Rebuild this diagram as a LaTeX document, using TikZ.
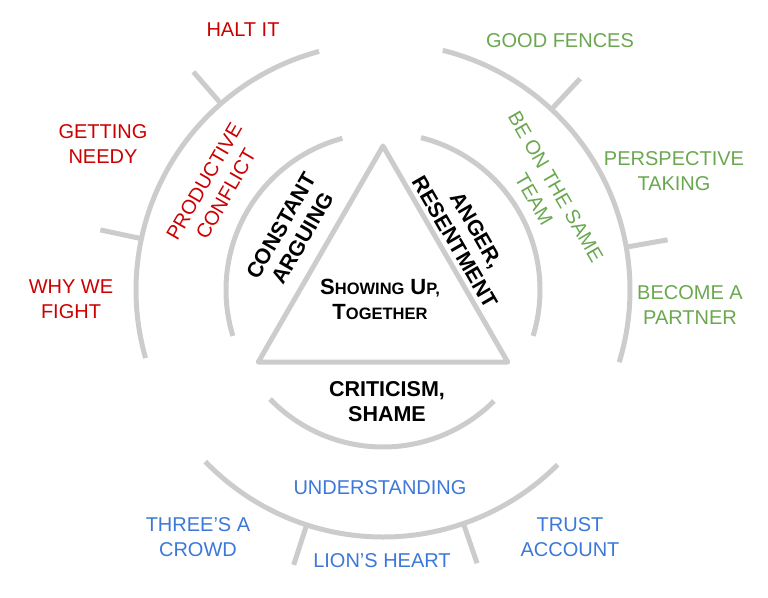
\documentclass[tikz,border=0pt]{standalone}
\usepackage{fontspec}
\setmainfont{Liberation Sans}
\usepackage{xcolor}
\usepackage{tikz}
\usetikzlibrary{positioning,calc}

\definecolor{ringgray}{HTML}{CCCCCC}
\definecolor{confred}{HTML}{CC0000}
\definecolor{teamgreen}{HTML}{6AA84F}
\definecolor{understblue}{HTML}{3C78D8}

\newcommand{\capword}[2]{{\fontsize{22}{27}\selectfont #1}{\fontsize{16.5}{27}\selectfont #2}}

\begin{document}
\begin{tikzpicture}[x=1pt, y=1pt,
  ring/.style={draw=ringgray, line width=5pt},
  tick/.style={draw=ringgray, line width=5pt},
  every node/.style={inner sep=0pt, align=center, font=\fontsize{20}{25}\selectfont},
  redtxt/.style={text=confred},
  greentxt/.style={text=teamgreen},
  bluetxt/.style={text=understblue},
  blacktxt/.style={text=black, font=\fontsize{21.5}{25}\selectfont\bfseries}]
\useasboundingbox (-383,-307) rectangle (385,290);
% rings
\draw[ring] (105:247) arc[start angle=105, end angle=196, radius=247];
\draw[ring] (-17:247) arc[start angle=-17, end angle=76, radius=247];
\draw[ring] (224:247) arc[start angle=224, end angle=315, radius=247];
\draw[ring] (105:157) arc[start angle=105, end angle=197, radius=157];
\draw[ring] (-17:157) arc[start angle=-17, end angle=76, radius=157];
\draw[ring] (224:157) arc[start angle=224, end angle=315, radius=157];
% ticks
\foreach \a in {131,168,47,10,252,289}
  \draw[tick] (\a:247) -- (\a:289);
% triangle
\draw[ring, line join=round] (90:144) -- (210:144) -- (330:144) -- cycle;
% center
\node[blacktxt] (core) at (-3,-9) {\capword{S}{HOWING} \capword{U}{P,}\\ \capword{T}{OGETHER}};
\node[blacktxt, rotate=60] (arguing) at (-91,58) {CONSTANT\\ ARGUING};
\node[blacktxt, rotate=-60] (anger) at (83,54) {ANGER,\\ RESENTMENT};
\node[blacktxt] (shame) at (4,-112) {CRITICISM,\\ SHAME};
% red side
\node[redtxt, rotate=60] (conflict) at (-168,102) {PRODUCTIVE\\ CONFLICT};
\node[redtxt] (halt) at (-140,260) {HALT IT};
\node[redtxt] (needy) at (-280,146) {GETTING\\ NEEDY};
\node[redtxt] (fight) at (-312,-9.5) {WHY WE\\ FIGHT};
% green side
\node[greentxt, rotate=-60] (team) at (162,97) {BE ON THE SAME\\ TEAM};
\node[greentxt] (fences) at (177,249) {GOOD FENCES};
\node[greentxt] (perspective) at (291,119) {PERSPECTIVE\\ TAKING};
\node[greentxt] (partner) at (307,-15) {BECOME A\\ PARTNER};
% blue side
\node[bluetxt] (understanding) at (-3,-198) {UNDERSTANDING};
\node[bluetxt] (crowd) at (-185,-247) {THREE'S A\\ CROWD};
\node[bluetxt] (lion) at (-1,-271) {LION'S HEART};
\node[bluetxt] (trust) at (187,-247) {TRUST\\ ACCOUNT};
\end{tikzpicture}
\end{document}
